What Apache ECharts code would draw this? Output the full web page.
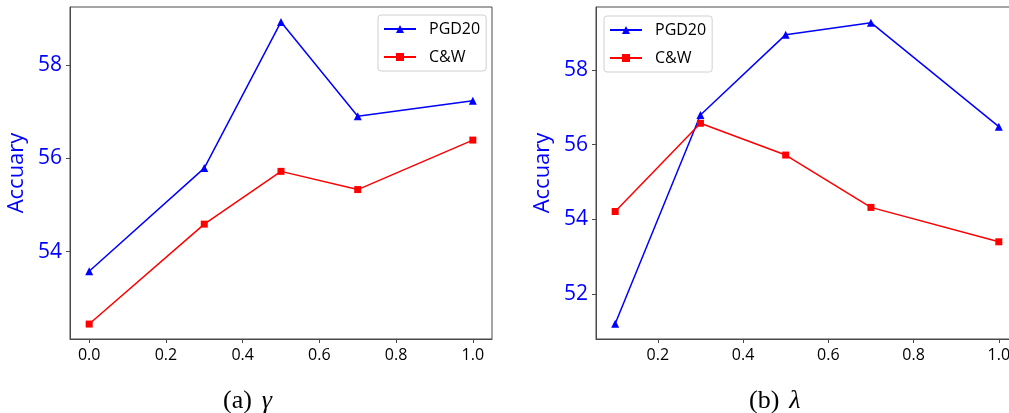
<!DOCTYPE html>
<html><head><meta charset="utf-8">
<script src="https://cdn.jsdelivr.net/npm/echarts@6/dist/echarts.min.js"></script>
<style>html,body{margin:0;padding:0;background:#fff}#c{width:1009px;height:413px}</style>
</head><body><div id="c"></div>
<script>
const gammaX = [0.0, 0.3, 0.5, 0.7, 1.0];
const gammaPGD = [53.58, 55.79, 58.92, 56.90, 57.23];
const gammaCW = [52.45, 54.59, 55.72, 55.33, 56.39];
const lambdaX = [0.1, 0.3, 0.5, 0.7, 1.0];
const lambdaPGD = [51.21, 56.79, 58.94, 59.26, 56.48];
const lambdaCW = [54.21, 56.57, 55.72, 54.32, 53.40];
const leftXTicks = [0.0, 0.2, 0.4, 0.6, 0.8, 1.0];
const leftYTicks = [54, 56, 58];
const rightXTicks = [0.2, 0.4, 0.6, 0.8, 1.0];
const rightYTicks = [52, 54, 56, 58];
const seriesNames = ['PGD20', 'C&W'];
const captions = ['(a)', '(b)'];
const captionSymbols = ['γ', 'λ'];

const sans = '"Open Sans", "Noto Sans", sans-serif';
const axisColor = '#4a4a4a';
const zip = (xs, ys) => xs.map((x, i) => [x, ys[i]]);

function xAxis(gi, min, max, ticks) {
  return {
    type: 'value', gridIndex: gi, min: min, max: max,
    splitLine: {show: false},
    axisLine: {show: true, onZero: false, lineStyle: {color: axisColor, width: 1}},
    axisTick: {show: true, length: 4, customValues: ticks, lineStyle: {color: axisColor}},
    axisLabel: {customValues: ticks, formatter: v => v.toFixed(1), color: '#000', fontSize: 16, fontFamily: sans, margin: 8, hideOverlap: false}
  };
}
function yAxis(gi, min, max, ticks) {
  return {
    type: 'value', gridIndex: gi, min: min, max: max,
    name: 'Accuary', nameLocation: 'middle', nameGap: 42, nameRotate: 90,
    nameTextStyle: {color: '#0000ff', fontSize: 22, fontFamily: sans},
    splitLine: {show: false},
    axisLine: {show: true, onZero: false, lineStyle: {color: axisColor, width: 1}},
    axisTick: {show: true, length: 4, customValues: ticks, lineStyle: {color: axisColor}},
    axisLabel: {customValues: ticks, formatter: v => String(v), color: '#0000ff', fontSize: 21, fontFamily: sans, margin: 8}
  };
}
function lineSeries(name, gi, data, color, symbol, size) {
  return {
    type: 'line', name: name, xAxisIndex: gi, yAxisIndex: gi, data: data,
    symbol: symbol, symbolSize: size, showSymbol: true,
    lineStyle: {color: color, width: 1.5}, itemStyle: {color: color},
    emphasis: {disabled: true}, animation: false
  };
}
function legend(left, top) {
  return {
    left: left, top: top, orient: 'vertical', data: seriesNames,
    itemWidth: 32, itemHeight: 10, itemGap: 12,
    padding: [6, 6, 6, 5],
    borderColor: '#d0d0d0', borderWidth: 1, borderRadius: 3,
    textStyle: {fontSize: 16, fontFamily: sans, color: '#000', padding: [0, 0, 0, 8]}
  };
}
const serif = '"Liberation Serif", "DejaVu Serif", serif';
const chart = echarts.init(document.getElementById('c'), null, {renderer: 'canvas'});
chart.setOption({
  animation: false,
  backgroundColor: '#fff',
  grid: [
    {left: 70, top: 7, width: 422, height: 332, show: true, borderColor: axisColor, borderWidth: 1, backgroundColor: 'transparent', outerBoundsMode: 'none', containLabel: false},
    {left: 596, top: 7, width: 422, height: 332, show: true, borderColor: axisColor, borderWidth: 1, backgroundColor: 'transparent', outerBoundsMode: 'none', containLabel: false}
  ],
  xAxis: [xAxis(0, -0.05, 1.05, leftXTicks), xAxis(1, 0.055, 1.045, rightXTicks)],
  yAxis: [yAxis(0, 52.13, 59.24, leftYTicks), yAxis(1, 50.80, 59.68, rightYTicks)],
  legend: [legend(378, 15), legend(604, 16)],
  series: [
    lineSeries(seriesNames[0], 0, zip(gammaX, gammaPGD), '#0000ff', 'triangle', 8),
    lineSeries(seriesNames[1], 0, zip(gammaX, gammaCW), '#ff0000', 'rect', 7),
    lineSeries(seriesNames[0], 1, zip(lambdaX, lambdaPGD), '#0000ff', 'triangle', 8),
    lineSeries(seriesNames[1], 1, zip(lambdaX, lambdaCW), '#ff0000', 'rect', 7)
  ],
  graphic: [0, 1].map(i => ({
    type: 'text', left: i === 0 ? 223 : 749, top: 388,
    style: {
      text: '{n|' + captions[i] + '}{s|' + captionSymbols[i] + '}',
      rich: {
        n: {fontFamily: serif, fontSize: 26, fill: '#000'},
        s: {fontFamily: serif, fontSize: 26, fontStyle: 'italic', fill: '#000', padding: [0, 0, 0, 10]}
      }
    }
  }))
});
</script></body></html>
